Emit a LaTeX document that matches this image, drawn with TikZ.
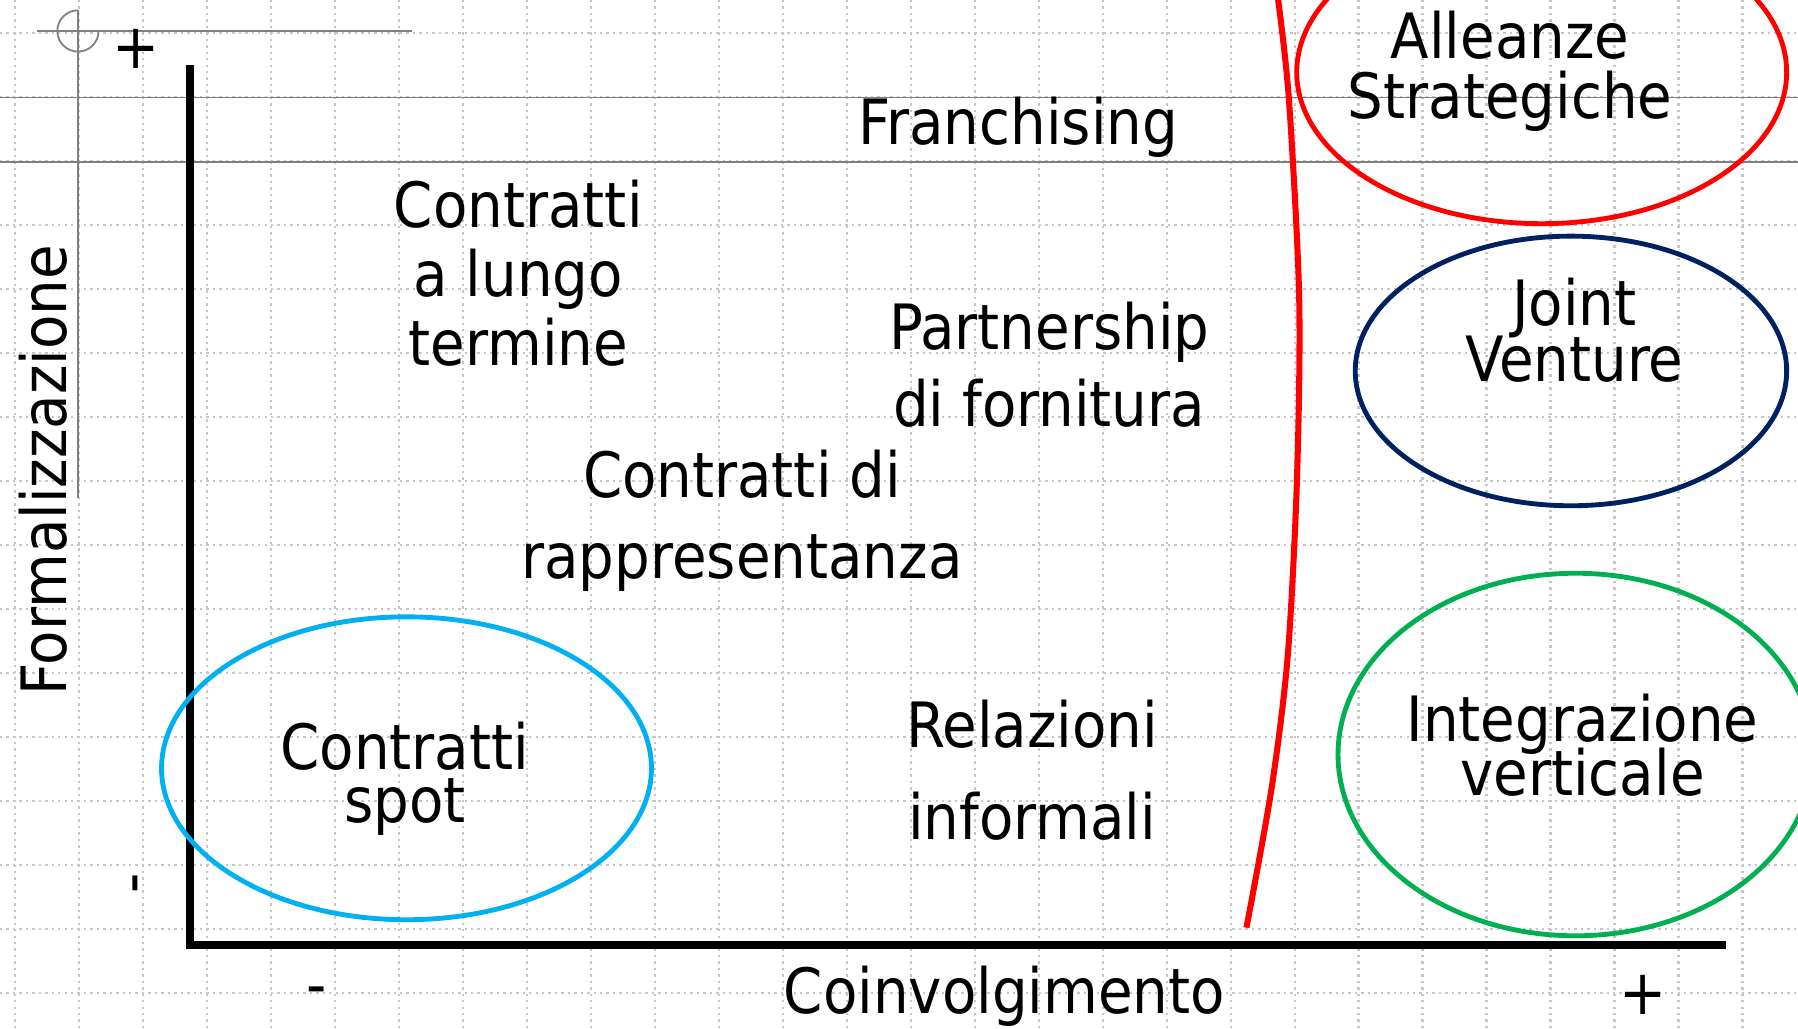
\documentclass[tikz,border=0pt]{standalone}
\usepackage{fontspec}
\setmainfont{DejaVu Sans Condensed}
\usetikzlibrary{positioning,shapes.geometric}
\definecolor{spotblue}{HTML}{00B0F0}
\definecolor{jvnavy}{HTML}{002060}
\definecolor{intgreen}{HTML}{00B050}
\newcommand\tightlines{\lineskiplimit -100pt\relax}
\tikzset{
	lbl/.style={draw=none,fill=none,align=center,inner sep=0pt,
		font=\fontsize{15.5}{#1}\selectfont\tightlines},
	lbl/.default=17
}

\begin{document}
\begin{tikzpicture}
		[x=0.01cm,y=-0.01cm,
		oval/.style={ellipse,draw,line width=1.2pt,fill=none,inner sep=0pt},
		axis/.style={line width=2pt,line join=miter},
		guide/.style={gray,line width=0.45pt}]
		\useasboundingbox (0,0) rectangle (1568,897);
		\clip (0,0) rectangle (1568,897);
		
		% grid
		\foreach \i in {0,...,28}
			\draw[gray!45,densely dotted,line width=0.6pt] (13.1+55.8*\i,0) -- (13.1+55.8*\i,897);
		\foreach \j in {0,...,15}
			\draw[gray!45,densely dotted,line width=0.6pt] (0,28.8+55.8*\j) -- (1568,28.8+55.8*\j);
		\draw[guide] (0,85) -- (1568,85);
		\draw[guide] (0,141) -- (1568,141);
		\draw[guide] (32,27) -- (359,27);
		\draw[guide] (68,9) -- (68,434);
		\draw[guide] (68,9) arc[start angle=-90,end angle=-360,radius=18];
		
		% axes
		\coordinate (o) at (166,824);
		\coordinate (ytop) at (166,57);
		\coordinate (xend) at (1505,824);
		\draw[axis] (ytop) -- (o) -- (xend);
		
		\node[lbl] (ypiu) at (119,43) {+};
		\node[lbl,rotate=90] (ymeno) at (124,770) {-};
		\node[lbl] (xmeno) at (276,869) {-};
		\node[lbl] (xpiu) at (1433,868) {+};
		\node[lbl] (coinv) at (876,869) {Coinvolgimento};
		\node[lbl,rotate=90] (formal) at (38,410) {Formalizzazione};
		
		% forms of collaboration
		\node[lbl] (franch) at (888,111) {Franchising};
		\node[lbl=17.1] (lungo) at (452,238) {Contratti\\a lungo\\termine};
		\node[lbl=19.3] (partner) at (915,318) {Partnership\\di fornitura};
		\node[lbl=20.2] (rappr) at (647,454) {Contratti di\\rappresentanza};
		\node[lbl=22.8] (relaz) at (900,672) {Relazioni\\informali};
		\node[lbl=13.1] (spot) at (353,679) {Contratti\\spot};
		\node[lbl=14.8] (alleanze) at (1317,62) {Alleanze\\Strategiche};
		\node[lbl=13.7] (joint) at (1373,288) {Joint\\Venture};
		\node[lbl=13.4] (integr) at (1380,650) {Integrazione\\verticale};
		
		\node[oval,draw=red,minimum width=4.27cm,minimum height=2.64cm] (ovalall) at (1344.5,63) {};
		\node[oval,draw=jvnavy,minimum width=3.76cm,minimum height=2.35cm] (ovaljv) at (1370,323.5) {};
		\node[oval,draw=intgreen,minimum width=4.14cm,minimum height=3.16cm] (ovalint) at (1374,658) {};
		\node[oval,draw=spotblue,minimum width=4.27cm,minimum height=2.64cm] (ovalspot) at (354.5,670) {};
		
		% dividing line
		\draw[red,line width=1.5pt] plot[smooth] coordinates {(1114,-5) (1124,86) (1133,260) (1131,420) (1123,572) (1109,687) (1087,809)};
		\end{tikzpicture}
\end{document}
